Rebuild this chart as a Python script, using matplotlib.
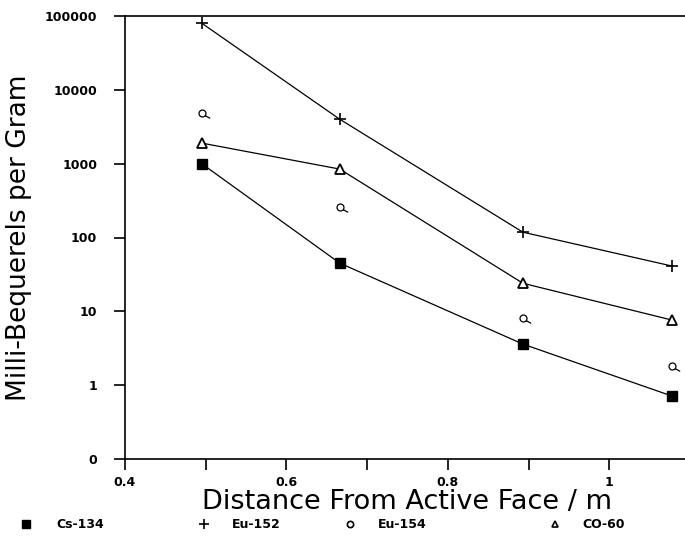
import numpy as np
import matplotlib
matplotlib.use("Agg")
import matplotlib.pyplot as plt
from matplotlib.path import Path
from matplotlib.lines import Line2D
from matplotlib.ticker import FixedLocator, FixedFormatter, NullLocator

# distances
distancia = [0.495, 0.666, 0.893, 1.078]

cs134 = [1000, 45, 3.6, 0.71]
eu152 = [80000, 4000, 118, 41]
eu154 = [4850, 258, 8.1, 1.8]
co60 = [1900, 845, 24, 7.6]

y_ticks = [0.1, 1, 10, 100, 1000, 10000, 100000]
y_labels = ["0", "1", "10", "100", "1000", "10000", "100000"]
x_ticks = [0.4, 0.5, 0.6, 0.7, 0.8, 0.9, 1.0]
x_labels = ["0.4", "", "0.6", "", "0.8", "", "1"]

# circulo com rabinho (Eu-154)
circ = Path.unit_circle()
rabo = Path([[0.75, -0.6], [2.2, -1.4]], [Path.MOVETO, Path.LINETO])
marcador_eu154 = Path.make_compound_path(circ, rabo)

fig = plt.figure(figsize=(6.85, 5.42), dpi=100)
ax = fig.add_axes([125 / 685, 83 / 542, 565 / 685, 443 / 542])

ax.plot(distancia, cs134, color="black", lw=0.9, marker="s", ms=6.5, mfc="black", mec="black")
ax.plot(distancia, eu152, color="black", lw=0.9, marker="+", ms=9, mew=1.2)
ax.plot(distancia, co60, color="black", lw=0.9, marker="^", ms=6.5, mfc="white", mec="black", mew=1.3)
ax.plot(distancia, eu154, ls="none", marker=marcador_eu154, ms=11, mfc="none", mec="black", mew=0.9)

ax.set_yscale("log")
ax.set_ylim(0.1, 100000)
ax.set_xlim(0.4, 1.1)

ax.yaxis.set_major_locator(FixedLocator(y_ticks))
ax.yaxis.set_major_formatter(FixedFormatter(y_labels))
ax.yaxis.set_minor_locator(NullLocator())
ax.xaxis.set_major_locator(FixedLocator(x_ticks))
ax.xaxis.set_major_formatter(FixedFormatter(x_labels))

ax.spines["right"].set_visible(False)
for s in ["left", "bottom", "top"]:
    ax.spines[s].set_linewidth(1.2)

ax.tick_params(axis="y", direction="out", length=8, width=1.2, pad=12)
ax.tick_params(axis="x", direction="out", length=8, width=1.2, pad=4)
for lab in ax.get_xticklabels() + ax.get_yticklabels():
    lab.set_fontweight("bold")
    lab.set_fontsize(9)

ax.set_xlabel("Distance From Active Face / m", fontsize=19.5, labelpad=0)
ax.set_ylabel("Milli-Bequerels per Gram", fontsize=19, labelpad=9)

# legenda manual embaixo
itens = [
    (26, 56, "s", "Cs-134", dict(mfc="black", mec="black", ms=6)),
    (204, 232, "+", "Eu-152", dict(mec="black", ms=7, mew=1.2)),
    (350, 378, "o", "Eu-154", dict(mfc="none", mec="black", ms=4.5, mew=1.2)),
    (555, 582, "^", "CO-60", dict(mfc="white", mec="black", ms=5, mew=1.2)),
]
yl = 1 - 524 / 542
for xm, xt, m, nome, kw in itens:
    fig.add_artist(Line2D([xm / 685], [yl], marker=m, ls="none", transform=fig.transFigure, **kw))
    fig.text(xt / 685, yl, nome, fontsize=9, fontweight="bold", va="center", ha="left")

fig.savefig("out.png", dpi=100)
